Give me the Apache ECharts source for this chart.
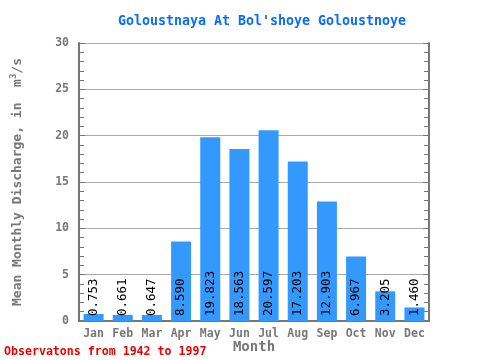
<!DOCTYPE html>
<html><head><meta charset="utf-8">
<script src="https://cdn.jsdelivr.net/npm/echarts@6/dist/echarts.min.js"></script>
<style>html,body{margin:0;padding:0;background:#fff}#c{width:480px;height:360px}</style>
</head><body><div id="c"></div>
<script>
const months = ['Jan','Feb','Mar','Apr','May','Jun','Jul','Aug','Sep','Oct','Nov','Dec'];
const discharge = [0.753,0.661,0.647,8.590,19.823,18.563,20.597,17.203,12.903,6.967,3.205,1.460];
const yTicks = [0,5,10,15,20,25,30];
const titleText = "Goloustnaya At Bol'shoye Goloustnoye";
const noteText = 'Observatons from 1942 to 1997';

const FONT = '"DejaVu Sans Mono", "Liberation Mono", monospace';
const chart = echarts.init(document.getElementById('c'), null, {renderer:'canvas'});
chart.setOption({
  animation:false,
  title:{text:titleText, left:257, top:10, textAlign:'center',
    textStyle:{fontFamily:FONT, fontSize:13.3, fontWeight:'bold', color:'#0a6cff'}},
  graphic:[{type:'text', left:4, top:346,
    style:{text:noteText, fontFamily:FONT, fontSize:11.6, fontWeight:'bold', fill:'#ee0000'}}],
  grid:{left:79, right:51, top:43, bottom:39, containLabel:false, outerBoundsMode:'none'},
  xAxis:[{type:'category', data:months, position:'bottom',
    name:'Month', nameLocation:'middle', nameGap:19, nameMoveOverlap:false,
    nameTextStyle:{fontFamily:FONT, fontSize:14, fontWeight:'bold', color:'#777'},
    axisLine:{lineStyle:{color:'#777', width:2}},
    axisTick:{inside:true, length:6, lineStyle:{color:'#777', width:2}},
    axisLabel:{fontFamily:FONT, fontSize:11.5, fontWeight:'bold', color:'#777', margin:7},
    boundaryGap:true},
   {type:'category', data:months, position:'top',
    axisLine:{lineStyle:{color:'#777', width:2}},
    axisTick:{inside:true, length:6, lineStyle:{color:'#777', width:2}},
    axisLabel:{show:false}}],
  yAxis:[{type:'value', min:yTicks[0], max:yTicks[yTicks.length-1], interval:5,
    name:'Mean Monthly Discharge, in  m{s|3}/s', nameLocation:'middle', nameGap:53, nameMoveOverlap:false,
    nameTextStyle:{fontFamily:FONT, fontSize:13, fontWeight:'bold', color:'#777',
      rich:{s:{fontFamily:FONT, fontSize:9, fontWeight:'bold', color:'#777', verticalAlign:'top', padding:[0,0,8,0]}}},
    axisLine:{show:true, lineStyle:{color:'#777', width:2}},
    axisTick:{show:true, inside:true, length:6, lineStyle:{color:'#777', width:1}},
    minorTick:{show:true, splitNumber:5, length:5, lineStyle:{color:'#777', width:1}},
    axisLabel:{fontFamily:FONT, fontSize:11.5, fontWeight:'bold', color:'#777', margin:10},
    splitLine:{show:true, lineStyle:{color:'#aaa', width:1}}},
   {type:'value', min:0, max:30, interval:5, position:'right',
    axisLine:{show:true, lineStyle:{color:'#777', width:2}},
    axisTick:{show:true, inside:true, length:6, lineStyle:{color:'#777', width:1}},
    minorTick:{show:true, splitNumber:5, length:5, lineStyle:{color:'#777', width:1}},
    axisLabel:{show:false}, splitLine:{show:false}}],
  series:[{type:'bar', data:discharge, barWidth:20, xAxisIndex:0, yAxisIndex:0,
    itemStyle:{color:'#3399ff'},
    label:{show:true, position:'insideBottom', rotate:90, align:'left', verticalAlign:'middle',
      distance:5, formatter:p=>p.value.toFixed(3),
      fontFamily:FONT, fontSize:12.5, color:'#000'}}]
});
</script></body></html>
